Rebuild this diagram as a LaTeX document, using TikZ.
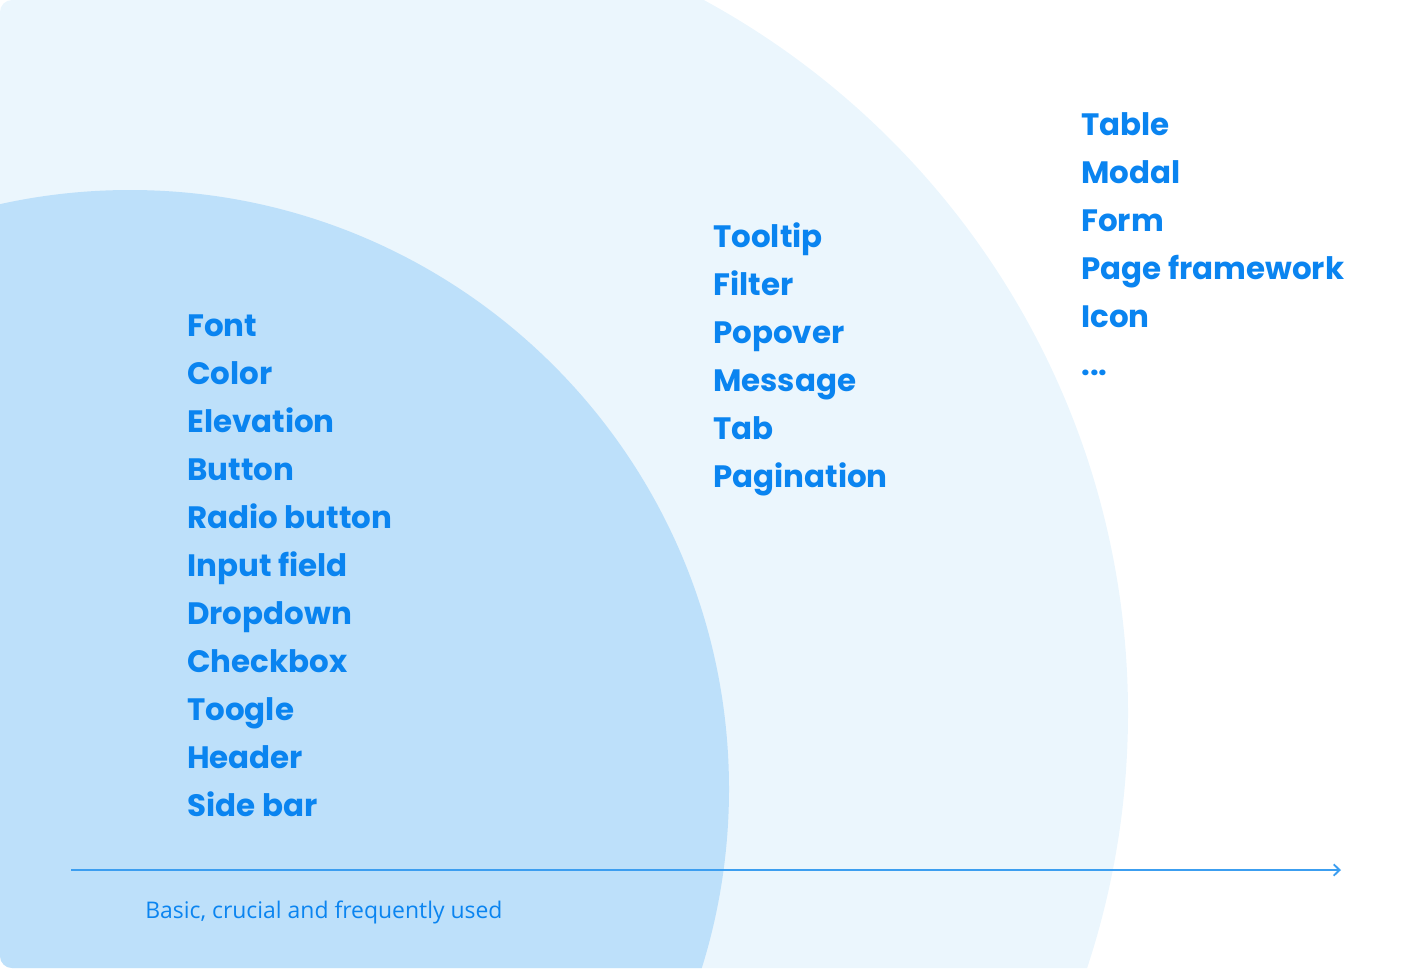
\documentclass[tikz,border=0pt]{standalone}
\usepackage{fontspec}
\usetikzlibrary{arrows.meta}
\newfontfamily\itemfont{Poppins}
\newfontfamily\notefont{Open Sans}
\definecolor{inner}{HTML}{BDE0FA}
\definecolor{outer}{HTML}{EBF6FD}
\definecolor{ink}{HTML}{0A84F0}
\definecolor{axis}{HTML}{3C9EF0}
\tikzset{item/.style = {anchor=base west,inner sep=0pt,text=ink,font=\itemfont\bfseries\fontsize{23.2}{28}\selectfont}}
\tikzset{note/.style = {anchor=base west,inner sep=0pt,text=ink,font=\notefont\fontsize{17.2}{20}\selectfont}}
\tikzset{edge/.style = {-{Straight Barb[length=4.5pt,width=8.5pt]},draw=axis,line width=1.4pt}}

\begin{document}
\begin{tikzpicture}[x=0.75pt,y=-0.75pt]
                \useasboundingbox (0,0) rectangle (1416,968);
                \begin{scope}
                \clip[rounded corners=9pt] (0,0) rectangle (1416,968);
                \fill[outer] (317,713) circle (811);
                \fill[inner] (130,789) circle (599);
                \end{scope}
                % inner ring
                \node[item] (font) at (187,336) {Font};
                \node[item] (color) at (187,384) {Color};
                \node[item] (elevation) at (187,432) {Elevation};
                \node[item] (button) at (187,480) {Button};
                \node[item] (radio) at (187,528) {Radio button};
                \node[item] (input) at (187,576) {Input field};
                \node[item] (dropdown) at (187,624) {Dropdown};
                \node[item] (checkbox) at (187,672) {Checkbox};
                \node[item] (toogle) at (187,720) {Toogle};
                \node[item] (header) at (187,768) {Header};
                \node[item] (sidebar) at (187,816) {Side bar};
                % outer ring
                \node[item] (tooltip) at (713,247) {Tooltip};
                \node[item] (filter) at (713,295) {Filter};
                \node[item] (popover) at (713,343) {Popover};
                \node[item] (message) at (713,391) {Message};
                \node[item] (tab) at (713,439) {Tab};
                \node[item] (pagination) at (713,487) {Pagination};
                % outside
                \node[item] (table) at (1081,135) {Table};
                \node[item] (modal) at (1081,183) {Modal};
                \node[item] (form) at (1081,231) {Form};
                \node[item] (page) at (1081,279) {Page framework};
                \node[item] (icon) at (1081,327) {Icon};
                \node[item] (more) at (1081,375) {...};
                % axis
                \coordinate (start) at (71,870);
                \coordinate (end) at (1341,870);
                \draw[edge] (start) -- (end);
                \node[note] (basic) at (145,918) {Basic, crucial and frequently used};
            \end{tikzpicture}
\end{document}
